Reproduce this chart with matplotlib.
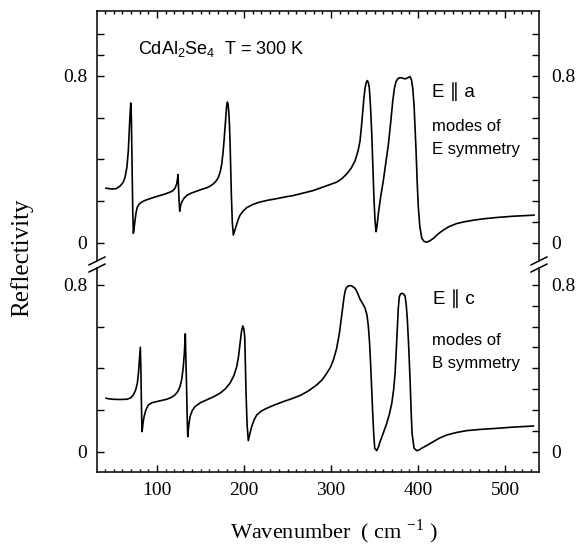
import numpy as np
import matplotlib
matplotlib.use('Agg')
import matplotlib.pyplot as plt
import matplotlib.transforms as mtransforms
from matplotlib.ticker import MultipleLocator

# E || a spectrum (upper)
ea_w = [41.4, 48, 53, 57.5, 61, 63.2, 65.3, 67.0, 68.6, 69.8, 70.5, 71.3, 72.1, 72.8, 73.6,
        74.7, 76, 77.4, 79.5, 82.4, 87, 92.0, 97, 103.4, 109, 114.9, 118, 120.7, 122.6,
        123.5, 124.1, 124.7, 125.3, 126.1, 126.9, 128.4, 131, 134.1, 139, 145.6, 151,
        157.1, 161, 164.8, 168, 170.5, 172.6, 174.4, 175.8, 177.0, 178.1, 179.0, 180,
        180.8, 181.6, 182.4, 183.2, 183.9, 184.7, 185.4, 186.5, 187.7, 189.5, 191.6,
        193.5, 195.4, 199, 203.1, 210, 218.4, 228, 237.6, 247, 256.7, 264.4, 272, 279.7,
        291.1, 300, 306.5, 312.5, 318.0, 323, 327.6, 331, 333.3, 335, 336.4, 337.8,
        339.1, 340.4, 341.7, 343, 344.0, 345.4, 346.8, 348.1, 349.4, 350.5, 351.7, 352.8,
        354.4, 357, 360.1, 363, 365.9, 368.5, 370.9, 372.8, 374.7, 377, 379.3, 382, 385.1,
        388, 390.8, 392.5, 393.9, 395.5, 397.7, 399, 400.3, 402, 404.3, 407, 410.0, 413.5,
        417.6, 423, 429.1, 436, 444.5, 454, 463.6, 476, 490.5, 509.6, 533.3]
ea_r = [0.262, 0.258, 0.260, 0.272, 0.290, 0.314, 0.36, 0.441, 0.583, 0.670, 0.60, 0.362,
        0.15, 0.046, 0.07, 0.109, 0.148, 0.172, 0.186, 0.196, 0.205, 0.212, 0.219, 0.227,
        0.234, 0.243, 0.250, 0.262, 0.283, 0.305, 0.327, 0.27, 0.204, 0.152, 0.175, 0.196,
        0.214, 0.227, 0.238, 0.248, 0.256, 0.264, 0.272, 0.283, 0.297, 0.314, 0.34, 0.378,
        0.43, 0.488, 0.55, 0.599, 0.655, 0.674, 0.665, 0.630, 0.57, 0.488, 0.36, 0.235,
        0.10, 0.038, 0.062, 0.090, 0.115, 0.133, 0.153, 0.169, 0.184, 0.196, 0.205, 0.212,
        0.220, 0.227, 0.235, 0.243, 0.251, 0.268, 0.281, 0.291, 0.308, 0.330, 0.357, 0.393,
        0.44, 0.488, 0.56, 0.630, 0.695, 0.741, 0.768, 0.777, 0.765, 0.741, 0.65, 0.520,
        0.36, 0.204, 0.11, 0.054, 0.08, 0.141, 0.22, 0.299, 0.385, 0.472, 0.575, 0.678,
        0.740, 0.773, 0.787, 0.791, 0.789, 0.785, 0.790, 0.796, 0.780, 0.741, 0.65, 0.441,
        0.29, 0.172, 0.08, 0.022, 0.007, 0.004, 0.010, 0.022, 0.043, 0.062, 0.079, 0.093,
        0.102, 0.109, 0.116, 0.122, 0.128, 0.133]

# E || c spectrum (lower)
ec_w = [41.4, 45, 49.8, 57, 65.2, 69.5, 72.8, 75.3, 77.4, 78.7, 79.7, 80.3, 80.8, 81.4,
        82.0, 82.4, 82.8, 83.8, 85.1, 87.3, 90.0, 94.5, 99.7, 105, 111.1, 116, 120.7, 124,
        126.4, 128.5, 130.2, 131.5, 132.5, 133.3, 134.1, 134.7, 135.3, 136.4, 137.9, 140.5,
        143.7, 150, 157.1, 165, 172.4, 178.5, 183.9, 188.3, 191.6, 193.6, 195.4, 197, 198.5,
        199.7, 200.8, 201.5, 202.3, 203.5, 204.9, 206.7, 208.8, 211.5, 214.6, 220, 226.1,
        235, 245.2, 255, 264.4, 274, 283.6, 290, 295.1, 299.3, 302.7, 306.4, 309.6, 312.5,
        315.0, 316.5, 318.0, 320.3, 322.6, 325, 327.6, 330.5, 333.3, 336.4, 339.1, 341.3,
        342.9, 344.3, 345.6, 346.8, 347.9, 349.1, 350.2, 352.5, 354.3, 356.3, 360, 364.0,
        367, 369.8, 372, 373.6, 375, 376.2, 377.3, 378.5, 380, 381.6, 383.4, 385.1, 386.5,
        387.7, 389.3, 390.8, 392, 393.1, 395.4, 398.5, 401, 404.3, 410, 417.6, 425, 433.0,
        444, 456.0, 472, 490.5, 510, 532.6]
ec_r = [0.257, 0.254, 0.252, 0.251, 0.252, 0.258, 0.273, 0.295, 0.329, 0.38, 0.440, 0.48,
        0.501, 0.40, 0.249, 0.15, 0.097, 0.135, 0.169, 0.202, 0.225, 0.236, 0.241, 0.246,
        0.252, 0.260, 0.273, 0.290, 0.313, 0.35, 0.408, 0.48, 0.565, 0.43, 0.281, 0.16,
        0.073, 0.125, 0.169, 0.198, 0.217, 0.236, 0.249, 0.264, 0.281, 0.302, 0.329, 0.365,
        0.408, 0.455, 0.520, 0.575, 0.603, 0.590, 0.552, 0.43, 0.281, 0.13, 0.054, 0.088,
        0.121, 0.153, 0.177, 0.196, 0.209, 0.225, 0.241, 0.255, 0.270, 0.292, 0.321, 0.346,
        0.377, 0.405, 0.440, 0.495, 0.568, 0.66, 0.743, 0.775, 0.788, 0.795, 0.796, 0.791,
        0.783, 0.760, 0.731, 0.710, 0.688, 0.655, 0.600, 0.52, 0.408, 0.29, 0.185, 0.08,
        0.018, 0.006, 0.022, 0.049, 0.09, 0.137, 0.180, 0.233, 0.30, 0.377, 0.49, 0.600,
        0.69, 0.743, 0.757, 0.759, 0.755, 0.746, 0.70, 0.632, 0.50, 0.344, 0.20, 0.089,
        0.018, 0.006, 0.009, 0.018, 0.031, 0.049, 0.067, 0.081, 0.093, 0.102, 0.108, 0.113,
        0.119, 0.124]

offset = 1.0  # upper spectrum shifted up by this
left_ticks = [0, 0.2, 0.4, 0.6, 0.8, 1.0, 1.2, 1.4, 1.6, 1.8, 1.9, 2.0]
right_ticks = [0, 0.1, 0.2, 0.3, 0.4, 0.5, 0.6, 0.7, 0.8,
               1.0, 1.1, 1.2, 1.3, 1.4, 1.5, 1.6, 1.7, 1.8, 1.9, 2.0]
tick_text = {0: '0', 0.8: '0.8', 1.0: '0', 1.8: '0.8'}
x_ticks = [100, 200, 300, 400, 500]

serif = 'Liberation Serif'
sans = 'Liberation Sans'
plt.rcParams['mathtext.fontset'] = 'custom'
plt.rcParams['mathtext.rm'] = sans

fig = plt.figure(figsize=(5.81, 5.53), dpi=100)
ax = fig.add_axes([97 / 581, 1 - 472 / 553, 442 / 581, 461 / 553])

ax.plot(ea_w, np.array(ea_r) + offset, color='k', lw=1.2)
ax.plot(ec_w, ec_r, color='k', lw=1.2)

ymin, ymax = -0.096, 2.11
ax.set_xlim(31, 539)
ax.set_ylim(ymin, ymax)

ax.set_xticks(x_ticks)
ax.set_xticklabels([str(t) for t in x_ticks], family=serif, fontsize=14)
ax.xaxis.set_minor_locator(MultipleLocator(10))
ax.tick_params(axis='x', which='both', direction='in', top=True, bottom=True, width=1, pad=7)
ax.tick_params(axis='x', which='major', length=5)
ax.tick_params(axis='x', which='minor', length=2.5)

ax.set_yticks(left_ticks)
ax.set_yticklabels([tick_text.get(round(t, 1), '') for t in left_ticks], family=serif, fontsize=14)
ax.tick_params(axis='y', direction='in', left=True, right=False, length=5, width=1, pad=7)

ax2 = ax.twinx()
ax2.set_ylim(ymin, ymax)
ax2.set_yticks(right_ticks)
ax2.set_yticklabels([tick_text.get(round(t, 1), '') for t in right_ticks], family=serif, fontsize=14)
ax2.tick_params(axis='y', direction='in', length=5, width=1, pad=9)
for s in ax2.spines.values():
    s.set_visible(False)

for s in ['top', 'bottom']:
    ax.spines[s].set_linewidth(1.1)
ax.spines['left'].set_visible(False)
ax.spines['right'].set_visible(False)

# side spines with the axis break
trans = mtransforms.blended_transform_factory(ax.transAxes, ax.transData)
b_lo, b_hi = 0.88, 0.914
for xs in (0, 1):
    ax.plot([xs, xs], [ymin, b_lo], transform=trans, color='k', lw=1.1, clip_on=False)
    ax.plot([xs, xs], [b_hi, ymax], transform=trans, color='k', lw=1.1, clip_on=False)
    for yb in (b_lo, b_hi):
        ax.plot([xs - 0.018, xs + 0.018], [yb - 0.019, yb + 0.019], transform=trans,
                color='k', lw=1.1, clip_on=False)

ax.text(78.2, 1.904, r'CdAl$_{\mathregular{2}}$Se$_{\mathregular{4}}$  T = 300 K',
        family=sans, fontsize=13, va='baseline')
ax.text(416, 1.70, 'E \u2225 a', family=[sans, 'DejaVu Sans'], fontsize=13.5, va='baseline')
ax.text(416, 1.536, 'modes of', family=sans, fontsize=12, va='baseline')
ax.text(416, 1.426, 'E symmetry', family=sans, fontsize=12, va='baseline')
ax.text(417, 0.707, 'E \u2225 c', family=[sans, 'DejaVu Sans'], fontsize=13.5, va='baseline')
ax.text(416, 0.512, 'modes of', family=sans, fontsize=12, va='baseline')
ax.text(416, 0.400, 'B symmetry', family=sans, fontsize=12, va='baseline')

fig.text(22 / 581, 1 - 258 / 553, 'Reflectivity', rotation=90, ha='center', va='center',
         family=serif, fontsize=18)
fig.text(334 / 581, 1 - 532 / 553, r'Wavenumber  ( cm $^{\mathregular{-1}}$ )',
         ha='center', va='center', family=serif, fontsize=16)

fig.savefig('out.png', dpi=100)
